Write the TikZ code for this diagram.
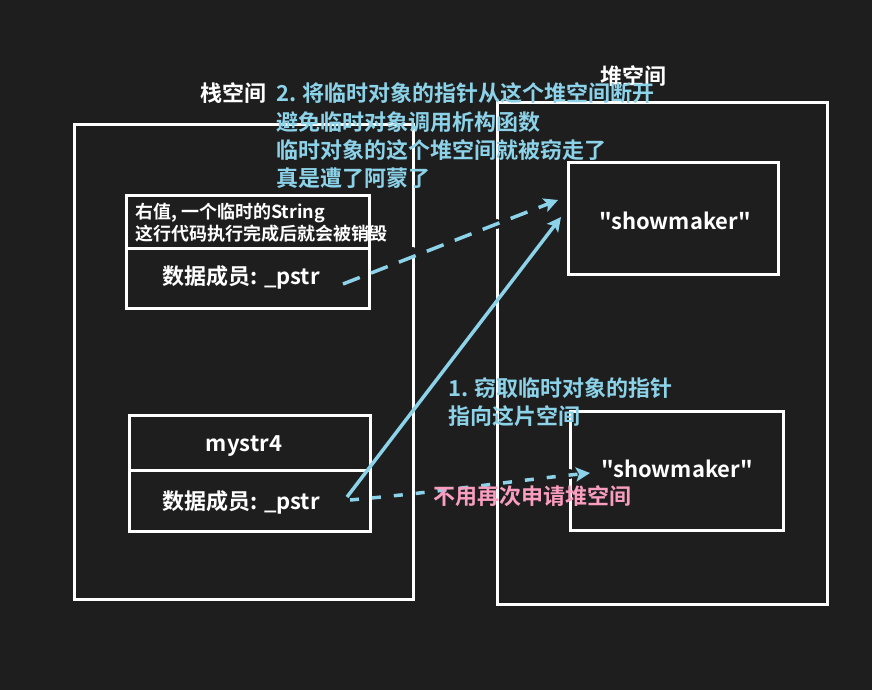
\documentclass[tikz,border=0pt]{standalone}
\usepackage{fontspec}
\setmainfont{Noto Sans CJK SC}[BoldFont={Noto Sans CJK SC Bold}, Ligatures=TeXOff]
\usetikzlibrary{arrows.meta}
\definecolor{bg}{HTML}{1E1E1E}
\definecolor{cy}{HTML}{8CD2E8}
\definecolor{pk}{HTML}{FA9EC0}
\tikzset{
  wbox/.style={draw=white, line width=3pt},
  lbl/.style={inner sep=0pt, anchor=base west, text=white, font=\bfseries\fontsize{22}{26}\selectfont},
  cytxt/.style={inner sep=0pt, anchor=base west, text=cy, font=\bfseries\fontsize{22}{26}\selectfont},
  small/.style={inner sep=0pt, anchor=base west, text=white, font=\bfseries\fontsize{18}{22}\selectfont},
  member/.style={inner sep=0pt, anchor=base, text=white, font=\bfseries\fontsize{22}{25}\selectfont},
  cyarrow/.style={draw=cy, line width=3.5pt, -{Stealth[length=14pt,width=14pt,inset=3pt]}},
  hop/.style={fill=bg, draw=none},
}
\begin{document}
\begin{tikzpicture}[x=1pt,y=-1pt]
\fill[bg] (0,0) rectangle (872,690);
\useasboundingbox (0,0) rectangle (872,690);

% stack and heap outer boxes
\draw[wbox] (74,125) rectangle (413,599);
\draw[wbox] (497,103) rectangle (827,604);

% rvalue box
\draw[wbox] (126,195) rectangle (369,308);
\draw[wbox] (126,248) -- (369,248);
% mystr4 box
\draw[wbox] (129,415) rectangle (370,531);
\draw[wbox] (129,470) -- (370,470);
% heap boxes
\draw[wbox] (568,162) rectangle (778,274);
\draw[wbox] (570,411) rectangle (783,530);

% anchor coordinates
\coordinate (p1) at (343,284);
\coordinate (t1) at (558,200);
\coordinate (p2) at (347,497);
\coordinate (t2) at (561,217);
\coordinate (p3) at (350,500);
\coordinate (t3) at (590,473);

% crossing hops
\fill[hop] (413,252) circle (5);
\fill[hop] (497,224) circle (5);
\fill[hop] (570,474) circle (5);

% arrows
\draw[cyarrow, dash pattern=on 18pt off 12pt] (p1) -- (t1);
\draw[cyarrow] (p2) -- (t2);
\draw[cyarrow, dash pattern=on 9pt off 13pt] (p3) .. controls (440,492) and (520,480) .. (t3);

% labels
\node[lbl] (stk) at (200,102) {栈空间};
\node[lbl] (heap) at (600,85) {堆空间};

\node[cytxt] (c1) at (276,102) {2. 将临时对象的指针从这个堆空间断开};
\node[cytxt] (c2) at (276,131) {避免临时对象调用析构函数};
\node[cytxt] (c3) at (276,158) {临时对象的这个堆空间就被窃走了};
\node[cytxt] (c4) at (276,186) {真是遭了阿蒙了};

\node[small] (r1) at (135,218) {右值, 一个临时的String};
\node[small] (r2) at (135,240) {这行代码执行完成后就会被销毁};
\node[member] (m1) at (241,284) {数据成员: \_pstr};

\node[member] (ms) at (244,451) {mystr4};
\node[member] (m2) at (241,509) {数据成员: \_pstr};

\node[member] (s1) at (675,229) {"showmaker"};
\node[member] (s2) at (677,477) {"showmaker"};

\node[cytxt] (n1) at (448,396) {1. 窃取临时对象的指针};
\node[cytxt] (n2) at (448,424) {指向这片空间};

\node[lbl, text=pk] (pink) at (433,504) {不用再次申请堆空间};
\end{tikzpicture}
\end{document}
